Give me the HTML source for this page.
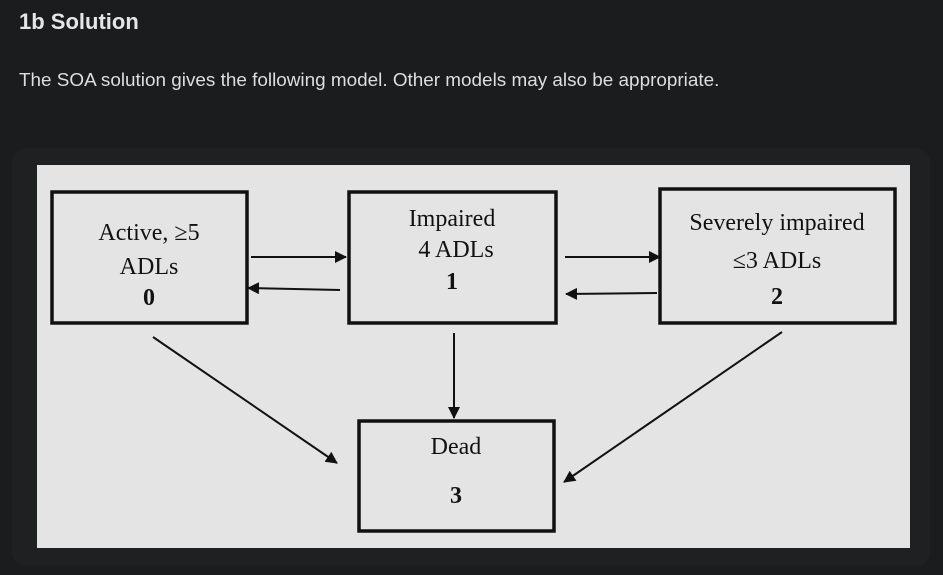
<!DOCTYPE html>
<html><head><style>
body{margin:0;width:943px;height:575px;background:#1b1c1e;overflow:hidden;font-family:"Liberation Sans",sans-serif;}
.h{position:absolute;left:19px;top:9px;color:#e6e6e6;font-weight:bold;font-size:22px;}
.p{position:absolute;left:19px;top:70px;color:#dedede;font-size:18.9px;}
.card{position:absolute;left:12px;top:148px;width:918px;height:418px;background:#1f2022;border-radius:14px;}
svg{position:absolute;left:0;top:0;}
text{font-family:"Liberation Serif",serif;font-size:24px;fill:#111;text-anchor:middle;}
</style></head><body>
<div class="h">1b Solution</div>
<div class="p">The SOA solution gives the following model. Other models may also be appropriate.</div>
<div class="card"></div>
<svg width="943" height="575">
<defs><marker id="a" markerWidth="12" markerHeight="12" refX="11" refY="6" orient="auto" markerUnits="userSpaceOnUse"><path d="M0,0L12,6L0,12z" fill="#111"/></marker></defs>
<rect x="37" y="165" width="873" height="383" fill="#e4e4e4"/>
<g fill="none" stroke="#111" stroke-width="3.5">
<rect x="52" y="192" width="195" height="131"/>
<rect x="349" y="192" width="207" height="131"/>
<rect x="660" y="189" width="235" height="134"/>
<rect x="359" y="421" width="195" height="110"/>
</g>
<g stroke="#111" stroke-width="2" marker-end="url(#a)">
<line x1="251" y1="257" x2="346" y2="257"/>
<line x1="340" y1="290" x2="248" y2="288"/>
<line x1="565" y1="257" x2="660" y2="257"/>
<line x1="657" y1="293" x2="566" y2="294"/>
<line x1="454" y1="333" x2="454" y2="418"/>
<line x1="153" y1="337" x2="337" y2="463"/>
<line x1="782" y1="332" x2="564" y2="482"/>
</g>
<text x="149" y="240">Active, ≥5</text>
<text x="149" y="274">ADLs</text>
<text x="149" y="305" font-weight="bold" font-size="21">0</text>
<text x="452" y="226">Impaired</text>
<text x="456" y="257">4 ADLs</text>
<text x="452" y="289" font-weight="bold" font-size="21">1</text>
<text x="777" y="230">Severely impaired</text>
<text x="777" y="268">≤3 ADLs</text>
<text x="777" y="304" font-weight="bold" font-size="21">2</text>
<text x="456" y="454">Dead</text>
<text x="456" y="503" font-weight="bold" font-size="21">3</text>
</svg>
</body></html>
